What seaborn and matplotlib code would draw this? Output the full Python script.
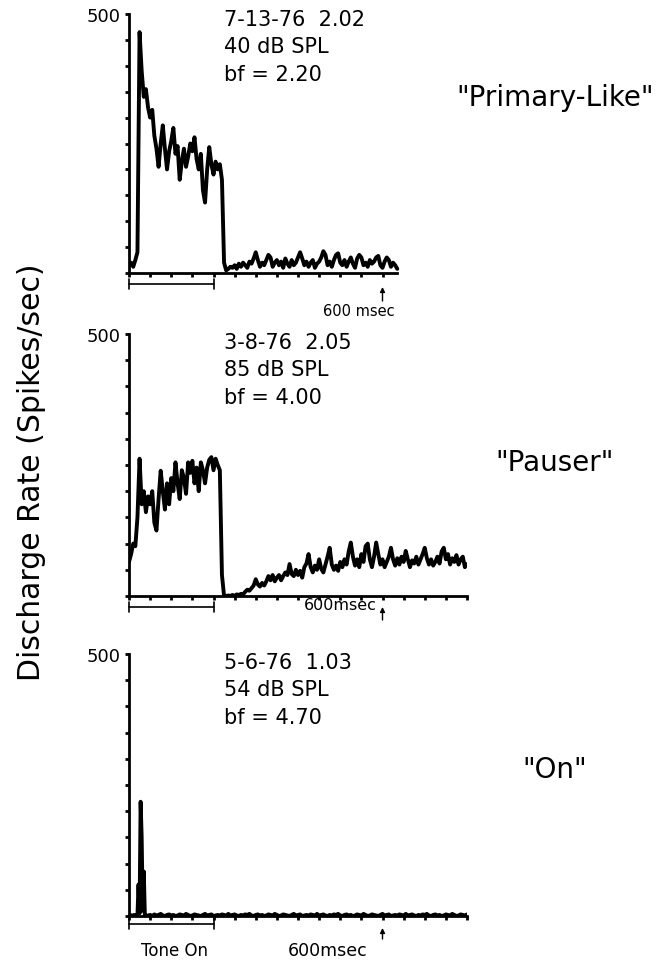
import numpy as np
import pandas as pd
import matplotlib
matplotlib.use("Agg")
import matplotlib.pyplot as plt
import seaborn as sns

# ---------------- data (spikes/sec, 5 ms bins unless stated) ----------------
# Panel 1: "Primary-Like"
rate1_driven = [15, 20, 12, 25, 40, 465, 390, 340, 355, 320, 300, 315, 265, 240,
                205, 250, 285, 240, 200, 235, 255, 280, 230, 245, 180, 215, 240,
                205, 225, 250, 235, 262, 220, 200, 230, 160, 136, 200, 243, 210,
                190, 215, 200, 210, 180, 20]
rate1_after = [5, 8, 12, 10, 15, 8, 18, 12, 20, 15, 10, 22, 18, 28, 40, 25, 12,
               20, 15, 25, 35, 30, 12, 20, 25, 15, 22, 10, 28, 18, 12, 25, 15, 20,
               30, 40, 28, 15, 22, 12, 20, 25, 10, 18, 22, 30, 42, 35, 15, 22, 12,
               25, 35, 38, 20, 15, 25, 12, 22, 30, 18, 10, 28, 35, 30, 15, 20, 12,
               25, 18, 22, 30, 33, 15, 10, 22, 30, 25, 12, 20, 15, 8]

# Panel 2: "Pauser"
rate2_driven = [65, 80, 100, 95, 150, 262, 175, 200, 160, 190, 175, 200, 140, 125,
                185, 239, 200, 165, 215, 175, 225, 200, 255, 215, 185, 240, 225,
                195, 255, 235, 258, 215, 245, 200, 255, 240, 215, 245, 260, 265,
                240, 262, 250, 240, 40, 0]
rate2_after = [0, 1, 0, 2, 0, 3, 2, 4, 3, 8, 12, 10, 15, 20, 32, 22, 18, 25, 20,
               28, 38, 30, 40, 28, 35, 40, 30, 38, 45, 40, 61, 42, 38, 50, 40, 48,
               35, 55, 62, 80, 55, 45, 58, 50, 70, 52, 45, 60, 75, 92, 60, 50, 58,
               48, 65, 55, 70, 60, 85, 102, 75, 58, 70, 55, 80, 65, 95, 100, 70,
               55, 75, 102, 80, 60, 70, 55, 65, 75, 92, 70, 58, 72, 60, 75, 65, 86,
               70, 55, 68, 62, 75, 60, 70, 80, 92, 72, 60, 70, 58, 65, 75, 62, 85,
               92, 70, 80, 60, 72, 65, 78, 60, 70, 75, 55, 61]

# Panel 3: "On"  (2.5 ms bins for the first 40 ms, then 5 ms bins)
rate3_onset = [0, 2, 0, 1, 0, 2, 0, 1, 0, 60, 5, 218, 150, 10, 85, 2, 0]
rate3_after = [1, 2, 0, 3, 1, 2, 4, 1, 0, 2, 3, 1, 2, 0, 1, 3, 2, 1, 4, 2,
               0, 1, 3, 2, 1, 0, 2, 4, 1, 2, 3, 0, 1, 2, 1, 3, 2, 0, 4, 1,
               2, 3, 1, 0, 2, 1, 3, 2, 4, 1, 0, 2, 3, 1, 2, 0, 1, 3, 2, 1,
               4, 2, 0, 1, 3, 2, 1, 0, 2, 4, 1, 2, 3, 0, 1, 2, 1, 3, 2, 0,
               4, 1, 2, 3, 1, 0, 2, 1, 3, 2, 4, 1, 0, 2, 3, 1, 2, 0, 1, 3,
               2, 1, 4, 2, 0, 1, 3, 2, 1, 0, 2, 4, 1, 2, 3, 0, 1, 2, 1, 3,
               2, 0, 4, 1, 2, 3, 1, 0, 2, 1, 3, 2, 4, 1, 0, 2, 3, 1, 2, 0,
               1, 3, 2, 1, 4, 2, 0, 1, 3, 2, 1, 3]

bin_ms = 5.0
onset_bin_ms = 2.5

time1 = np.arange(len(rate1_driven) + len(rate1_after)) * bin_ms
rate1 = rate1_driven + rate1_after
time2 = np.arange(len(rate2_driven) + len(rate2_after)) * bin_ms
rate2 = rate2_driven + rate2_after
t3a = np.arange(len(rate3_onset)) * onset_bin_ms
t3b = t3a[-1] + bin_ms * np.arange(1, len(rate3_after) + 1)
time3 = np.concatenate([t3a, t3b])
rate3 = rate3_onset + rate3_after

panel_ids = ["Primary-Like", "Pauser", "On"]
info_lines = [["7-13-76  2.02", "40 dB SPL", "bf = 2.20"],
              ["3-8-76  2.05", "85 dB SPL", "bf = 4.00"],
              ["5-6-76  1.03", "54 dB SPL", "bf = 4.70"]]
type_labels = ['"Primary-Like"', '"Pauser"', '"On"']
axis_end_ms = [635, 800, 800]
tick_end_ms = [600, 800, 800]
tone_on = (0, 200)
marker_ms = 600
y_max = 500
y_tick_step = 50
x_tick_step = 50

frames = []
for name, t, r in zip(panel_ids, [time1, time2, time3], [rate1, rate2, rate3]):
    frames.append(pd.DataFrame({"panel": name, "time": t, "rate": r}))
df = pd.concat(frames, ignore_index=True)

# ---------------- figure ----------------
sns.set_theme(style="ticks")
plt.rcParams["font.family"] = ["DejaVu Sans"]
for k in ["text.color", "axes.labelcolor", "xtick.color", "ytick.color",
          "axes.edgecolor"]:
    plt.rcParams[k] = "black"

W, H = 671, 962
fig = plt.figure(figsize=(W / 100, H / 100), dpi=100)

# axes boxes in pixels: (top, bottom)
boxes = [(15, 274), (335, 597), (655, 917)]
left_px, right_px = 129, 467

# per-panel layout of the under-axis annotations (pixels below baseline)
bracket_px = [11, 11, 8]
arrow_head_px = [14, 11, 12]
arrow_tail_px = [28, 24, 23]
msec_text = ["600 msec", "600msec", "600msec"]
msec_size = [10.5, 11.5, 12.5]
msec_y_px = [30, 9, 34]
msec_x = [544, 500, 470]
msec_va = ["top", "center", "center"]
label_y_px = [98, 463, 770]
info_y_px = [[20, 47, 75], [343, 370, 398], [663, 690, 718]]

for i, name in enumerate(panel_ids):
    top, bot = boxes[i]
    hpx = bot - top
    ax = fig.add_axes([left_px / W, 1 - bot / H, (right_px - left_px) / W, hpx / H])
    d = df[df["panel"] == name]
    sns.lineplot(data=d, x="time", y="rate", ax=ax, color="black", lw=2.8,
                 estimator=None, legend=False)
    ax.set_xlim(0, 800)
    ax.set_ylim(0, y_max)
    ax.set_xlabel("")
    ax.set_ylabel("")
    for s in ["top", "right"]:
        ax.spines[s].set_visible(False)
    for s in ["left", "bottom"]:
        ax.spines[s].set_linewidth(2)
        ax.spines[s].set_color("black")
    ax.spines["bottom"].set_bounds(0, axis_end_ms[i])
    ax.spines["left"].set_bounds(0, y_max)
    yt = np.arange(0, y_max + 1, y_tick_step)
    ax.set_yticks(yt)
    ax.set_yticklabels(["500" if v == y_max else "" for v in yt])
    ax.set_xticks(np.arange(0, tick_end_ms[i] + 1, x_tick_step))
    ax.set_xticklabels([])
    ax.tick_params(direction="out", length=3, width=2, color="black",
                   labelsize=13, pad=3, labelcolor="black")
    ax.patch.set_alpha(0)

    u = y_max / hpx  # data units per pixel
    # Tone-on bracket
    yb = -bracket_px[i] * u
    ax.plot(list(tone_on), [yb, yb], color="black", lw=1.2, clip_on=False)
    for xe in tone_on:
        ax.plot([xe, xe], [yb - 5 * u, yb + 5 * u], color="black", lw=1.2,
                clip_on=False)
    # 600 msec arrow
    ax.annotate("", xy=(marker_ms, -arrow_head_px[i] * u),
                xytext=(marker_ms, -arrow_tail_px[i] * u),
                arrowprops=dict(arrowstyle="-|>", color="black", lw=1.0,
                                mutation_scale=7, shrinkA=0, shrinkB=0),
                annotation_clip=False)
    ax.text(msec_x[i], -msec_y_px[i] * u, msec_text[i], fontsize=msec_size[i],
            ha="center", va=msec_va[i], clip_on=False)
    if i == 2:
        ax.text(107, -34 * u, "Tone On", fontsize=12, ha="center", va="center",
                clip_on=False)

    # info block
    for line, ypx in zip(info_lines[i], info_y_px[i]):
        fig.text(224 / W, 1 - ypx / H, line, fontsize=15, ha="left", va="center")
    # response type label
    fig.text(555 / W, 1 - label_y_px[i] / H, type_labels[i], fontsize=20,
             ha="center", va="center")

fig.text(32 / W, 1 - 472 / H, "Discharge Rate (Spikes/sec)", rotation=90,
         fontsize=21.5, ha="center", va="center")

fig.savefig("out.png", dpi=100)
